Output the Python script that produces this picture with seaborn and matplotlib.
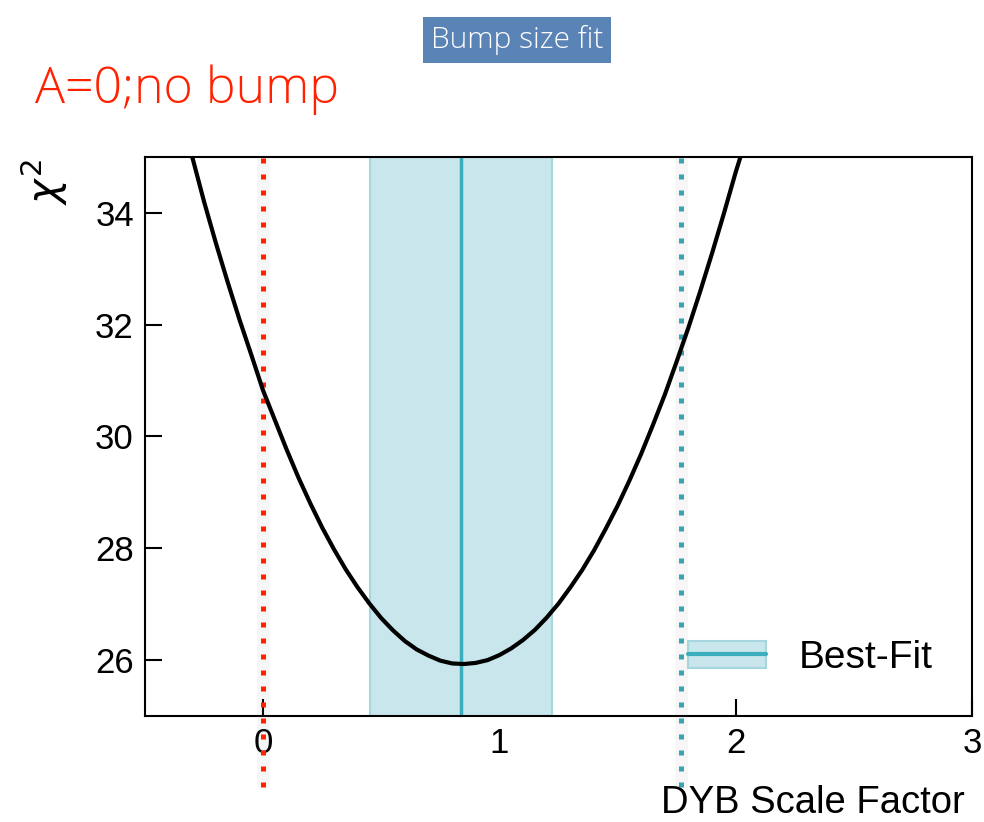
import matplotlib
matplotlib.use("Agg")
import matplotlib.pyplot as plt
from matplotlib.patches import Patch
from matplotlib.lines import Line2D
import seaborn as sns
import pandas as pd

# ---- data ----
scale_factor = [-0.30, -0.25, -0.20, -0.15, -0.10, -0.05, 0.00, 0.05, 0.10, 0.15,
                0.20, 0.25, 0.30, 0.35, 0.40, 0.45, 0.50, 0.55, 0.60, 0.65,
                0.70, 0.75, 0.80, 0.85, 0.90, 0.95, 1.00, 1.05, 1.10, 1.15,
                1.20, 1.25, 1.30, 1.35, 1.40, 1.45, 1.50, 1.55, 1.60, 1.65,
                1.70, 1.75, 1.80, 1.85, 1.90, 1.95, 2.00, 2.02]
chi2 = [35.00, 34.20, 33.46, 32.76, 32.09, 31.46, 30.82, 30.29, 29.76, 29.26,
        28.80, 28.37, 27.98, 27.62, 27.30, 27.01, 26.75, 26.53, 26.34, 26.19,
        26.08, 25.99, 25.94, 25.93, 25.95, 26.00, 26.09, 26.21, 26.36, 26.54,
        26.76, 27.01, 27.30, 27.61, 27.96, 28.35, 28.76, 29.21, 29.69, 30.21,
        30.75, 31.34, 31.95, 32.60, 33.28, 33.99, 34.73, 35.00]
best_fit = 0.837
band_low, band_high = 0.452, 1.222
no_bump_x = 0.0
dyb_x = 1.767
x_ticks = [0, 1, 2, 3]
y_ticks = [26, 28, 30, 32, 34]
x_limits = (-0.5, 3.0)
y_limits = (25.0, 35.0)

df = pd.DataFrame({"sf": scale_factor, "chi2": chi2})

sns.set_style("white")
plt.rcParams["font.family"] = ["Liberation Sans", "DejaVu Sans"]
plt.rcParams["mathtext.fontset"] = "dejavusans"
plt.rcParams["text.color"] = "black"

fig = plt.figure(figsize=(9.84, 8.22), dpi=100)
ax = fig.add_axes([145 / 984, 1 - 716 / 822, 827 / 984, 559 / 822])

teal_fill = "#c8e6ec"
teal_edge = "#a6d7df"
teal_line = "#3aaebd"
teal_dot = "#3aa2b3"
red = "#ff2200"

ax.axvspan(band_low, band_high, facecolor=teal_fill, edgecolor=teal_edge, lw=1.5, zorder=1)
ax.axvline(best_fit, color=teal_line, lw=2.5, zorder=2)

sns.lineplot(data=df, x="sf", y="chi2", ax=ax, color="black", lw=3.0, zorder=5,
             sort=False, estimator=None)

# dotted reference lines extending beyond the axes
for xv, col in [(no_bump_x, red), (dyb_x, teal_dot)]:
    ax.axvline(xv, ymin=-0.127, ymax=1.0, color="#888888", alpha=0.07, lw=9,
               clip_on=False, zorder=3, solid_capstyle="butt")
    ax.axvline(xv, ymin=-0.127, ymax=1.0, color=col, lw=3.6,
               clip_on=False, zorder=4, linestyle=(0, (1, 2.2)),
               dash_capstyle="butt")

ax.set_xlim(*x_limits)
ax.set_ylim(*y_limits)
ax.set_xticks(x_ticks)
ax.set_yticks(y_ticks)
ax.tick_params(axis="both", direction="in", length=12, width=1.5, labelsize=25,
               colors="black", pad=8, top=False, right=False, left=True, bottom=True)
for s in ax.spines.values():
    s.set_visible(True)
    s.set_color("black")
    s.set_linewidth(1.5)

ax.set_xlabel("")
ax.set_ylabel("")

fig.text(44 / 984, 1 - 182 / 822, r"$\chi^2$", ha="center", va="center",
         rotation=90, fontsize=30, color="black")

fig.text(813 / 984, 1 - 803 / 822, "DYB Scale Factor", ha="center", va="center",
         fontsize=27.5, color="black")

handle = (Patch(facecolor=teal_fill, edgecolor=teal_edge, lw=1.5),
          Line2D([], [], color=teal_line, lw=3))
leg = ax.legend([handle], ["Best-Fit"], loc="center left",
                bbox_to_anchor=((688 - 145) / 827, (716 - 658) / 559),
                frameon=False, fontsize=28, borderpad=0, borderaxespad=0,
                handlelength=2.0, handletextpad=0.85)
for t in leg.get_texts():
    t.set_color("black")

fig.text(517 / 984, 1 - 40 / 822, "Bump size fit", ha="center", va="center",
         fontsize=21.5, color="white", family=["Open Sans", "DejaVu Sans"],
         fontweight="light",
         bbox=dict(boxstyle="square,pad=0.27", facecolor="#5a84b5", edgecolor="none"))

fig.text(35 / 984, 1 - 90 / 822, "A=0;no bump", ha="left", va="center",
         fontsize=36, color=red, family=["Open Sans", "DejaVu Sans"],
         fontweight="light")

fig.savefig("out.png", dpi=100)
